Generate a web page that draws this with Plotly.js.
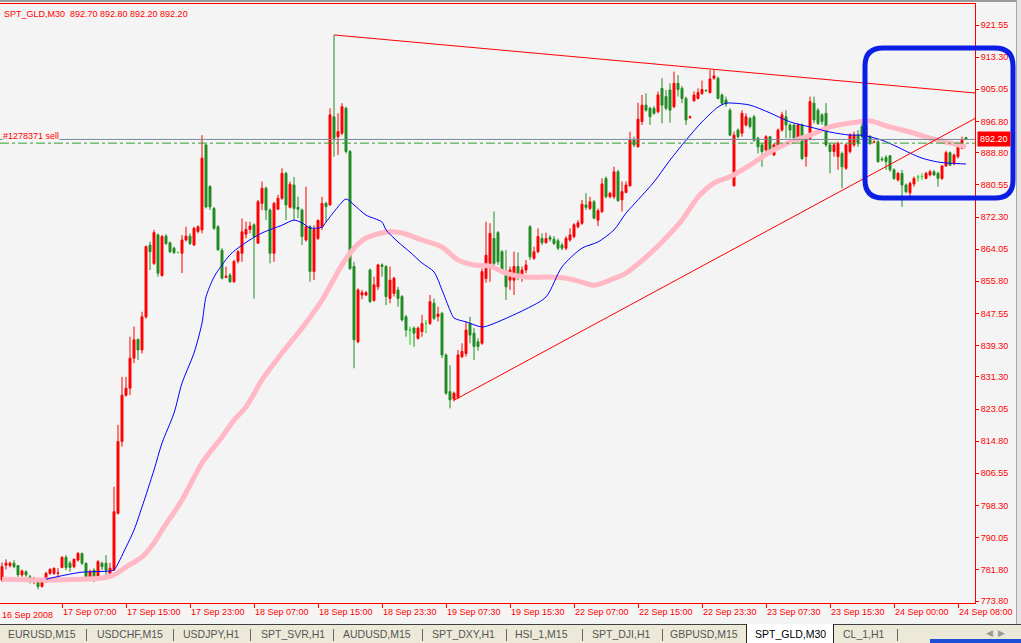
<!DOCTYPE html>
<html><head><meta charset="utf-8">
<script src="https://cdn.plot.ly/plotly-3.0.1.min.js"></script>
<style>
html,body{margin:0;padding:0;background:#F4F4F4;overflow:hidden;}
#wrap{position:relative;width:1021px;height:643px;overflow:hidden;}
#chart{position:absolute;left:0;top:0;width:1021px;height:643px;}
.topline{position:absolute;left:0;top:0;width:1021px;height:2px;background:#9a9a9a;}
.rightstrip{position:absolute;left:1016px;top:0;width:5px;height:624px;background:#E4E4E4;border-left:1px solid #A8A8A8;}
.tabbar{position:absolute;left:0;top:624px;width:1021px;height:19px;background:#ECE9D8;border-top:1px solid #404040;font-family:'Liberation Sans',Arial,sans-serif;font-size:10.5px;color:#555;}
.tab{position:absolute;top:3px;white-space:nowrap;}
.sep{position:absolute;top:4px;width:1px;height:12px;background:#666;}
.active{position:absolute;top:-1px;left:746px;width:86px;height:20px;background:#fff;border-left:1px solid #222;border-right:1px solid #222;}
.arrows{position:absolute;top:3px;left:986px;color:#999;font-size:9px;}
.taskbar{position:absolute;left:930px;top:639px;width:91px;height:4px;background:#1C4FD8;}
</style></head>
<body><div id="wrap"><div id="chart"></div>
<div class="topline"></div>
<div class="rightstrip"></div>
<div class="tabbar">
<div class="active"></div>
<span class="tab" style="left:8px">EURUSD,M15</span><div class="sep" style="left:86px"></div>
<span class="tab" style="left:97px">USDCHF,M15</span><div class="sep" style="left:173px"></div>
<span class="tab" style="left:183px">USDJPY,H1</span><div class="sep" style="left:250px"></div>
<span class="tab" style="left:261px">SPT_SVR,H1</span><div class="sep" style="left:333px"></div>
<span class="tab" style="left:343px">AUDUSD,M15</span><div class="sep" style="left:422px"></div>
<span class="tab" style="left:432px">SPT_DXY,H1</span><div class="sep" style="left:506px"></div>
<span class="tab" style="left:515px">HSI_1,M15</span><div class="sep" style="left:582px"></div>
<span class="tab" style="left:592px">SPT_DJI,H1</span><div class="sep" style="left:662px"></div>
<span class="tab" style="left:670px">GBPUSD,M15</span>
<span class="tab" style="left:755px;color:#000">SPT_GLD,M30</span>
<span class="tab" style="left:843px">CL_1,H1</span><div class="sep" style="left:897px"></div>
<span class="arrows">&#9664;&nbsp;&nbsp;&#9654;</span>
</div>
<div class="taskbar"></div>
</div>
<script>
// ---- candle data (SPT_GLD, M30), one entry per bar ----
const open = [779.2,783.0,782.9,783.5,782.9,780.5,781.3,780.0,778.7,779.2,777.5,779.2,780.9,780.9,780.9,782.4,785.0,783.5,782.6,784.3,
786.0,783.5,780.0,781.7,779.9,783.5,783.5,780.0,781.8,796.3,814.7,826.6,828.4,836.1,840.9,838.2,846.7,865.1,860.4,867.7,
857.3,867.4,865.7,864.3,863.2,863.0,866.4,867.4,865.1,868.6,869.0,890.8,880.1,874.5,869.8,863.8,856.8,857.4,855.7,861.0,
863.0,867.9,869.1,870.3,865.6,875.8,879.7,874.1,863.0,874.3,877.1,883.5,874.8,880.5,874.8,874.1,866.4,869.8,858.3,866.8,
869.8,875.8,875.4,898.0,892.9,893.8,900.2,889.1,859.6,840.3,852.3,852.3,858.7,850.9,854.4,860.0,859.6,851.4,852.7,853.6,
851.9,846.7,843.3,843.8,841.2,842.9,845.0,845.0,850.2,846.8,847.6,836.9,827.5,825.6,826.0,836.5,837.3,845.0,842.5,840.3,
839.9,856.5,859.6,866.8,868.3,863.4,858.3,856.1,856.1,859.6,857.4,858.7,869.8,861.7,863.4,866.8,865.7,867.1,866.6,866.2,
865.1,864.3,866.4,867.3,869.8,870.7,875.4,874.5,876.2,871.5,873.7,882.2,877.5,877.5,883.9,876.7,878.6,880.3,892.0,890.3,
896.8,901.0,900.2,900.2,899.3,905.3,903.2,904.9,900.6,906.6,905.3,902.7,897.8,902.1,902.7,904.0,904.8,904.2,907.9,907.9,
903.6,902.3,899.7,880.3,894.6,893.8,895.9,897.6,898.0,892.5,890.8,889.5,892.9,888.2,889.9,894.6,898.0,895.9,895.9,892.0,
895.9,887.8,892.5,901.5,899.7,898.5,898.9,890.8,889.1,887.8,888.6,884.8,889.1,890.8,893.3,895.5,892.9,893.0,891.5,891.6,
887.2,887.6,888.0,884.4,881.8,883.5,880.5,878.5,880.8,882.5,882.7,882.2,883.1,883.9,883.5,882.2,885.4,888.8,885.9,887.8,
889.9,892.7];
const high = [783.7,784.5,783.9,784.3,783.0,781.9,781.7,780.5,780.0,779.6,779.4,781.3,782.2,782.4,782.2,785.3,785.6,784.1,784.7,786.4,
786.2,783.6,781.9,782.2,784.3,783.9,785.6,783.6,803.1,819.0,831.3,831.3,841.6,844.2,841.1,848.0,865.0,866.0,869.0,868.1,
867.7,867.9,866.0,864.7,863.4,867.7,869.8,868.1,869.8,870.2,893.3,891.0,880.5,874.9,870.2,864.3,859.6,857.9,861.3,863.8,
871.9,871.1,871.1,870.7,876.7,881.4,880.1,874.5,876.2,878.0,884.8,883.9,881.4,882.6,877.5,874.5,880.1,870.2,870.2,871.7,
877.5,876.2,900.2,919.0,898.9,901.5,900.6,889.5,860.8,854.0,853.6,853.3,859.1,857.0,860.3,860.4,860.0,859.6,857.0,854.4,
852.3,847.2,844.2,844.2,844.2,847.2,845.9,852.3,851.4,849.3,848.0,837.3,834.3,827.5,838.2,839.9,845.5,846.7,843.8,841.2,
859.1,871.1,870.7,873.7,868.7,863.8,863.8,859.6,863.4,863.2,859.6,861.3,870.2,864.7,869.4,868.1,868.3,867.7,867.4,866.8,
865.7,867.4,869.4,870.7,871.5,876.7,878.4,877.5,876.7,874.5,882.2,882.7,878.8,885.2,884.4,881.4,881.4,894.2,892.9,901.6,
903.6,904.0,900.6,900.8,904.5,907.9,904.9,906.6,909.6,908.7,905.9,903.2,898.3,904.5,905.3,907.3,905.0,910.0,910.0,908.3,
904.0,903.2,900.2,894.2,895.0,899.7,898.9,898.0,898.5,892.9,891.2,893.3,892.9,891.2,895.0,899.3,899.7,896.3,896.3,896.3,
896.3,893.3,903.2,903.2,900.2,898.9,901.5,891.2,891.2,891.6,889.1,891.2,893.8,894.2,894.6,896.3,896.3,893.3,891.9,892.0,
887.8,888.2,888.2,884.8,883.9,884.4,880.9,881.4,882.7,883.1,883.5,883.9,884.4,884.4,883.9,885.6,889.3,889.1,888.6,891.6,
892.9,892.8];
const low = [778.7,781.9,782.4,782.2,780.0,780.0,780.0,778.3,778.1,776.8,777.3,778.5,780.5,780.5,778.7,782.2,781.7,781.3,782.2,783.9,
783.0,779.6,779.6,778.7,779.6,781.7,780.0,779.6,781.5,796.0,813.4,826.2,826.6,834.8,835.6,837.3,846.2,858.7,860.0,857.0,
857.0,865.1,863.0,862.8,863.0,857.9,866.0,865.1,865.0,868.1,868.1,874.5,874.1,869.0,863.6,856.3,856.6,855.4,855.4,860.4,
860.8,866.8,868.1,851.4,865.4,874.1,871.5,860.4,860.8,874.1,876.7,871.5,874.5,871.5,872.0,865.1,866.0,855.7,856.1,866.4,
869.0,871.1,875.2,887.8,888.2,893.3,888.6,858.7,833.5,839.9,851.2,852.0,850.2,850.6,853.6,857.0,849.7,850.2,851.9,849.3,
845.5,841.6,839.5,839.0,840.8,841.6,842.5,844.6,845.9,845.5,836.1,826.7,823.2,825.0,825.6,836.1,836.5,839.9,835.6,838.0,
839.5,855.5,855.7,859.1,860.0,857.9,851.0,853.6,852.3,856.1,855.7,857.9,861.3,861.3,863.0,865.1,865.5,866.0,865.1,863.8,
863.8,863.8,866.0,866.8,869.4,870.3,874.1,874.1,871.7,870.0,873.3,877.1,877.1,876.9,876.2,873.7,878.4,880.1,890.2,890.2,
895.9,899.3,895.9,898.5,898.9,896.3,899.7,896.5,900.2,903.2,901.5,895.9,897.5,901.9,902.5,903.6,904.4,904.0,907.5,902.5,
901.0,900.6,893.1,880.1,892.5,892.9,895.5,895.0,891.6,888.6,885.2,889.1,888.2,888.0,889.5,894.2,892.5,892.5,892.0,891.6,
886.9,885.2,892.0,896.3,895.9,895.9,890.3,883.5,887.8,884.4,879.7,884.4,888.6,890.3,890.3,892.5,892.7,890.8,891.2,886.2,
886.5,884.4,883.9,881.8,881.4,874.9,878.4,877.5,880.1,881.4,881.8,882.0,882.7,882.8,880.1,881.8,885.2,885.4,885.6,887.3,
889.7,892.2];
const close = [782.6,783.5,783.5,782.6,780.5,781.5,780.5,779.0,779.6,777.5,779.2,780.9,781.9,782.2,781.0,785.0,782.4,782.4,784.5,786.0,
783.5,780.0,781.3,779.6,783.9,782.6,781.7,782.2,796.7,814.7,826.6,828.4,836.1,840.8,838.2,846.7,864.7,863.4,868.3,857.9,
867.3,865.5,863.4,863.2,863.2,866.4,867.4,865.5,869.4,869.8,887.4,874.9,874.9,869.4,863.9,856.6,857.1,855.7,860.9,863.4,
868.5,869.1,870.0,867.3,876.2,879.7,874.1,863.0,875.8,877.1,883.5,875.4,880.7,874.5,874.3,867.3,869.8,858.3,869.1,871.4,
875.8,875.0,898.5,892.5,894.2,900.6,889.1,859.1,840.8,853.6,852.9,852.9,850.6,854.9,860.0,859.6,851.9,856.1,856.6,851.4,
845.9,843.3,843.3,842.5,843.8,845.0,845.0,850.6,846.3,847.4,836.9,827.1,825.4,827.1,836.9,837.8,843.3,842.0,839.1,839.1,
858.3,862.5,868.1,860.4,860.8,858.7,854.4,858.7,859.6,857.4,858.7,860.0,862.1,863.4,867.3,865.7,866.8,866.6,865.5,864.3,
864.3,866.8,867.7,870.3,870.8,875.6,874.8,876.2,872.0,873.9,880.8,877.5,878.4,883.9,876.5,878.8,880.5,892.0,890.8,897.4,
901.0,899.7,898.0,898.9,903.6,901.0,900.2,899.7,906.6,905.0,902.7,897.2,898.0,903.6,904.2,905.0,904.7,907.7,908.5,902.7,
901.5,901.3,893.3,893.3,892.9,898.9,898.0,895.5,892.0,890.3,889.1,892.9,888.6,890.8,894.6,898.5,895.9,894.6,892.5,895.9,
887.3,892.9,901.9,897.2,896.3,896.8,890.8,889.1,890.8,891.2,885.2,890.8,893.3,893.3,891.2,892.9,895.9,891.2,891.6,886.5,
887.0,886.5,884.4,882.2,883.5,880.5,878.8,880.9,882.2,882.5,882.7,883.5,883.9,883.1,882.2,885.4,888.8,885.6,888.2,891.2,
892.0,892.2];
// bars whose open equals close (drawn in the chart's doji colour)
const dojiBars = [44,102,106,229,230];

// ---- moving averages (bar index, price) ----
const maBlueBar = [11,16,20,27,28,31,33,35,38,40,43,45,48,50,51,53,55,57,60,65,70,73,75,77,80,81,84,86,88,91,95,96,99,102,105,108,110,112,113,116,120,122,131,136,140,145,149,153,156,159,163,167,171,175,179,181,183,187,192,197,202,207,212,215,220,224,227,230,234,237,241];
const maBlue = [779.4,780.5,781.2,781.5,781.8,787.6,792.0,797.9,807.4,814.3,822.0,829.7,837.4,845.1,851.8,856.9,860.0,862.6,865.1,868.2,870.2,871.5,870.8,869.5,869.7,871.0,874.9,876.9,875.4,872.8,871.0,869.0,865.9,863.3,860.5,858.2,853.6,848.4,846.4,845.4,844.1,844.6,848.7,851.8,859.5,864.3,865.9,869.0,873.3,876.7,881.3,886.9,892.0,896.7,900.5,901.5,901.5,901.0,899.0,896.7,895.4,894.1,893.3,893.3,892.0,890.2,888.7,887.4,886.4,886.1,885.9];
const maPinkBar = [0,10,25,28,31,35,38,40,45,50,55,58,61,65,70,75,80,85,88,91,95,97,100,105,110,114,118,122,126,131,136,141,145,148,152,156,161,165,170,174,178,182,187,192,197,202,207,212,217,222,227,232,237,241];
const maPink = [779.4,779.2,779.7,780.5,782.5,785.1,788.7,792.0,799.7,809.2,815.9,820.2,823.6,830.5,837.4,843.8,851.0,860.0,864.3,866.9,868.2,868.5,868.2,866.4,864.6,861.3,860.0,859.7,857.9,856.9,856.9,856.6,855.6,854.8,856.1,857.9,862.0,865.9,871.5,877.4,881.0,882.6,885.6,889.0,891.5,893.3,895.4,896.4,896.9,895.4,894.1,892.5,891.3,890.3];

// ---- axis labels ----
const yTicks = [921.55,913.30,905.05,896.80,888.80,880.55,872.30,864.05,855.80,847.55,839.30,831.30,823.05,814.80,806.55,798.30,790.05,781.80,773.80];
const xTickBars = [15,31,47,63,79,95,111,127,143,159,175,191,207,223,239];
const xTickText = ['17 Sep 07:00','17 Sep 15:00','17 Sep 23:00','18 Sep 07:00','18 Sep 15:00','18 Sep 23:30','19 Sep 07:30','19 Sep 15:30','22 Sep 07:00','22 Sep 15:00','22 Sep 23:30','23 Sep 07:30','23 Sep 15:30','24 Sep 00:00','24 Sep 08:00'];
const firstLabel = '16 Sep 2008';

// ---- trend lines (two anchor points each: bar, price) and horizontal levels ----
const trendUpper = [83, 919.0, 182, 909.8];
const trendLower = [113, 825.3, 215, 881.9];
const bidPrice = 892.20;
const orderPrice = 891.25;
const titleText = 'SPT_GLD,M30\u00a0\u00a0892.70 892.80 892.20 892.20';
const orderText = '#1278371 sell';

const bars = open.map((_, i) => i);
const isDoji = bars.map(i => dojiBars.includes(i));
const pick = (arr, want) => arr.filter((_, i) => isDoji[i] === want);
const XR = [-0.5, 243.25];
const YR = [773.29, 926.94];
const FONT = 'Liberation Sans, Arial, sans-serif';

function ray(t) {
  const s = (t[3] - t[1]) / (t[2] - t[0]);
  return {type:'line', xref:'x', yref:'y', x0:t[0], y0:t[1], x1:XR[1], y1:t[1] + s * (XR[1] - t[0]),
          line:{color:'#FF0000', width:1}};
}

// rounded hand-drawn box (pixel geometry -> paper)
const PW = 975, PT = 4, PB = 603;
const px = v => v / PW, py = v => (PB - v) / (PB - PT);
function roundBox(L, T, R, B, r) {
  return 'M ' + px(L + r) + ',' + py(T) + ' L ' + px(R - r) + ',' + py(T) +
    ' Q ' + px(R) + ',' + py(T) + ' ' + px(R) + ',' + py(T + r) +
    ' L ' + px(R) + ',' + py(B - r) +
    ' Q ' + px(R) + ',' + py(B) + ' ' + px(R - r) + ',' + py(B) +
    ' L ' + px(L + r) + ',' + py(B) +
    ' Q ' + px(L) + ',' + py(B) + ' ' + px(L) + ',' + py(B - r) +
    ' L ' + px(L) + ',' + py(T + r) +
    ' Q ' + px(L) + ',' + py(T) + ' ' + px(L + r) + ',' + py(T) + ' Z';
}

const traces = [
  {type:'scatter', mode:'lines', x:maPinkBar, y:maPink, line:{color:'#FFB8C4', width:5, shape:'spline', smoothing:0.8}, hoverinfo:'skip'},
  {type:'candlestick', x:pick(bars,false), open:pick(open,false), high:pick(high,false), low:pick(low,false), close:pick(close,false),
   increasing:{line:{color:'#FF0000', width:1}, fillcolor:'#FF0000'},
   decreasing:{line:{color:'#228B22', width:1}, fillcolor:'#228B22'},
   whiskerwidth:0, hoverinfo:'skip'},
  {type:'candlestick', x:pick(bars,true), open:pick(open,true), high:pick(high,true), low:pick(low,true), close:pick(close,true),
   increasing:{line:{color:'#00E000', width:1}, fillcolor:'#00E000'},
   decreasing:{line:{color:'#00E000', width:1}, fillcolor:'#00E000'},
   whiskerwidth:0, hoverinfo:'skip'},
  {type:'scatter', mode:'lines', x:maBlueBar, y:maBlue, line:{color:'#0000FF', width:1, shape:'spline', smoothing:0.8}, hoverinfo:'skip'}
];

const layout = {
  width:1021, height:643,
  margin:{l:0, r:46, t:4, b:40, pad:0},
  paper_bgcolor:'#F4F4F4', plot_bgcolor:'#F4F4F4',
  showlegend:false,
  font:{family:FONT, size:9, color:'#FF0000'},
  xaxis:{range:XR, showgrid:false, zeroline:false, showline:true, linecolor:'#FF0000', linewidth:1, mirror:true,
         tickvals:xTickBars, ticktext:xTickText, ticks:'outside', ticklen:4, tickcolor:'#FF0000',
         ticklabelposition:'outside right', tickfont:{family:FONT, size:9, color:'#FF0000'},
         rangeslider:{visible:false}, fixedrange:true},
  yaxis:{range:YR, side:'right', showgrid:false, zeroline:false, showline:true, linecolor:'#FF0000', linewidth:1,
         tickvals:yTicks, tickformat:'.2f', ticks:'outside', ticklen:3, tickcolor:'#FF0000',
         tickfont:{family:FONT, size:9, color:'#FF0000'}, fixedrange:true},
  shapes:[
    {type:'line', xref:'paper', yref:'y', x0:0, x1:1, y0:bidPrice, y1:bidPrice, line:{color:'#778899', width:1}},
    {type:'line', xref:'paper', yref:'y', x0:0, x1:1, y0:orderPrice, y1:orderPrice, line:{color:'#2FA02F', width:1, dash:'dashdot'}},
    ray(trendUpper), ray(trendLower),
    {type:'path', xref:'paper', yref:'paper', path:roundBox(865, 48, 1013, 198, 18), line:{color:'#0A1EE6', width:5}}
  ],
  annotations:[
    {xref:'paper', yref:'paper', x:0, y:1, xanchor:'left', yanchor:'top', xshift:2, yshift:-3, showarrow:false,
     text:titleText, font:{family:FONT, size:9, color:'#FF0000'}},
    {xref:'paper', yref:'y', x:0, y:orderPrice, xanchor:'left', yanchor:'bottom', xshift:2, yshift:1, showarrow:false,
     text:orderText, bgcolor:'#F4F4F4', borderpad:0, font:{family:FONT, size:9, color:'#FF0000'}},
    {xref:'paper', yref:'y', x:1, y:bidPrice, xanchor:'left', yanchor:'middle', xshift:2, showarrow:false,
     text:bidPrice.toFixed(2), bgcolor:'#FF0000', borderpad:2, font:{family:FONT, size:9, color:'#FFFFFF'}},
    {xref:'paper', yref:'paper', x:0, y:0, xanchor:'left', yanchor:'top', yshift:-5, showarrow:false,
     text:firstLabel, font:{family:FONT, size:9, color:'#FF0000'}}
  ]
};

Plotly.newPlot('chart', traces, layout, {staticPlot:true, displayModeBar:false});
</script>
</body></html>
